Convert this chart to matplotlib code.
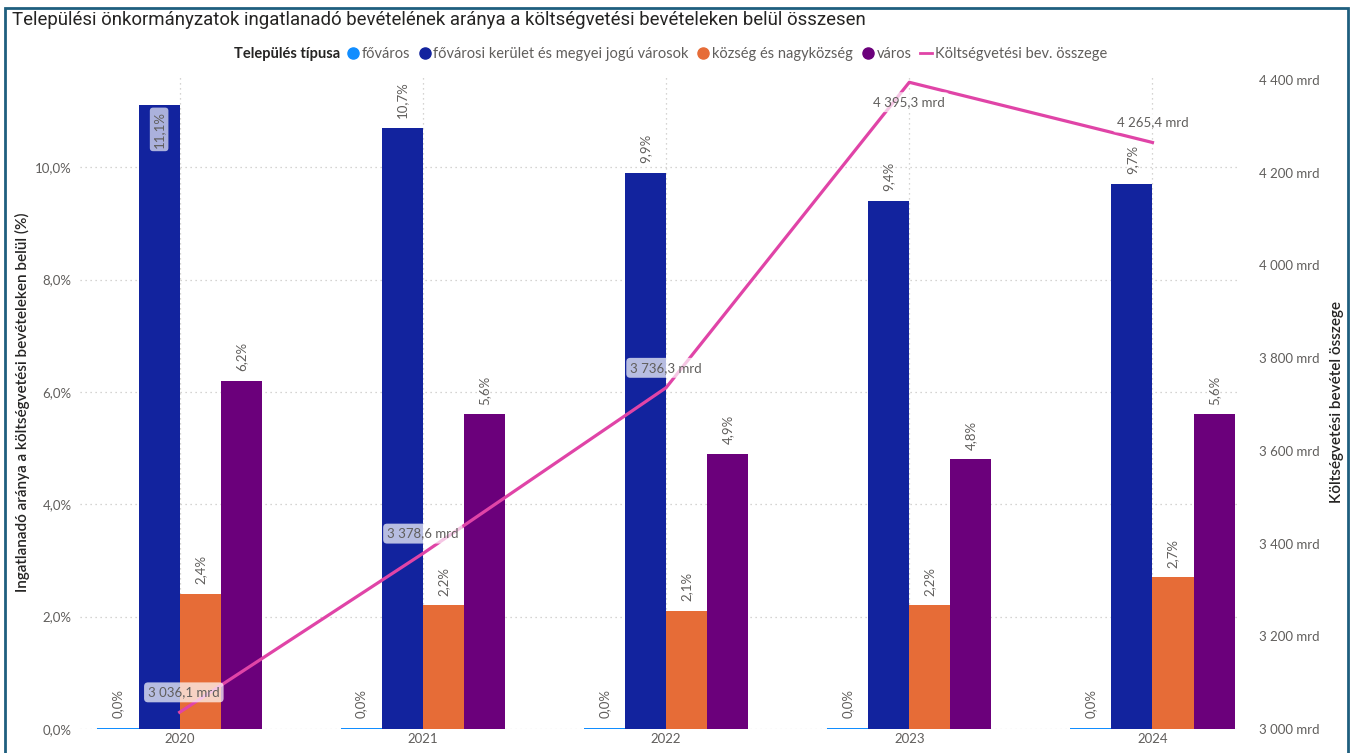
import matplotlib
matplotlib.use('Agg')
import matplotlib.pyplot as plt
import matplotlib.ticker as ticker
from matplotlib.lines import Line2D
from matplotlib.patches import Rectangle
import numpy as np

# Data
years = ['2020', '2021', '2022', '2023', '2024']
fovaros = [0.02, 0.02, 0.02, 0.02, 0.02]
keruletek = [11.1, 10.7, 9.9, 9.4, 9.7]
kozseg = [2.4, 2.2, 2.1, 2.2, 2.7]
varos = [6.2, 5.6, 4.9, 4.8, 5.6]
bevetel = [3036.1, 3378.6, 3736.3, 4395.3, 4265.4]

series_names = ['főváros', 'fővárosi kerület és megyei jogú városok',
                'község és nagyközség', 'város']
series_colors = ['#118DFF', '#12239E', '#E66C37', '#6B007B']
line_color = '#E044A7'
gray = '#605E5C'

plt.rcParams['font.family'] = ['Lato', 'DejaVu Sans']

def hu_num(v, dec=1):
    s = f"{v:,.{dec}f}"
    return s.replace(',', ' ').replace('.', ',')

fig = plt.figure(figsize=(13.53, 7.53), dpi=100)
ax = fig.add_axes([0.0591, 0.0319, 0.8574, 0.8685])
ax2 = ax.twinx()

x = np.arange(len(years))
w = 0.169
all_series = [fovaros, keruletek, kozseg, varos]
for i, (vals, col) in enumerate(zip(all_series, series_colors)):
    pos = x + (i - 1.5) * w
    ax.bar(pos, vals, width=w, color=col, zorder=2)
    for px, v in zip(pos, vals):
        lbl = hu_num(v) + '%'
        if v > 10.9:
            ax.annotate(lbl, (px, v), xytext=(0, -4), textcoords='offset points',
                        rotation=90, ha='center', va='top', fontsize=9.5, color=gray,
                        bbox=dict(boxstyle='round,pad=0.25', fc='white', ec='none', alpha=0.65),
                        zorder=5)
        else:
            ax.annotate(lbl, (px, v), xytext=(0, 7), textcoords='offset points',
                        rotation=90, ha='center', va='bottom', fontsize=9.5, color=gray,
                        zorder=5)

ax.set_xlim(-0.41, 4.36)
ax.set_ylim(0, 11.64)
ax.set_xticks(x)
ax.set_xticklabels(years)
ax.yaxis.set_major_locator(ticker.MultipleLocator(2))
ax.yaxis.set_major_formatter(ticker.FuncFormatter(lambda v, _: hu_num(v) + '%'))
ax.tick_params(axis='both', length=0, colors=gray, labelsize=9.5)
ax.tick_params(axis='y', pad=6)
ax.tick_params(axis='x', pad=3)
ax.grid(axis='y', linestyle=(0, (1, 3)), color='#C8C6C4', linewidth=0.9, zorder=0)
for xi in x:
    ax.axvline(xi, linestyle=(0, (1, 3)), color='#C8C6C4', linewidth=0.9, zorder=0)
for s in ax.spines.values():
    s.set_visible(False)
ax.set_ylabel('Ingatlanadó aránya a költségvetési bevételeken belül (%)',
              fontsize=11, color='#252423', fontweight='semibold')
ax.yaxis.set_label_coords(-0.043, 0.5)

# line on secondary axis
ax2.plot(x, bevetel, color=line_color, linewidth=2.3, zorder=4)
ax2.set_ylim(3000, 4411)
ax2.yaxis.set_major_locator(ticker.MultipleLocator(200))
ax2.yaxis.set_major_formatter(ticker.FuncFormatter(lambda v, _: hu_num(v, 0) + ' mrd'))
ax2.tick_params(axis='y', length=0, colors=gray, labelsize=9.5, pad=14)
for s in ax2.spines.values():
    s.set_visible(False)
ax2.set_ylabel('Költségvetési bevétel összege', fontsize=11, color='#252423',
               fontweight='semibold')
ax2.yaxis.set_label_coords(1.0776, 0.5)

label_offsets = [(3, 10), (0, 10), (0, 10), (0, -10), (0, 10)]
for xi, v, off in zip(x, bevetel, label_offsets):
    ax2.annotate(hu_num(v) + ' mrd', (xi, v), xytext=off, textcoords='offset points',
                 ha='center', va='bottom' if off[1] > 0 else 'top', fontsize=9.5, color=gray,
                 bbox=dict(boxstyle='round,pad=0.3', fc='white', ec='none', alpha=0.7),
                 zorder=6)

# title
fig.text(12 / 1353, 1 - 20 / 753, 'Települési önkormányzatok ingatlanadó bevételének aránya a költségvetési bevételeken belül összesen',
         fontsize=13.4, color='#252423', ha='left', va='center', family=['Roboto', 'DejaVu Sans'])

# legend
fig.text(340 / 1353, 1 - 54 / 753, 'Település típusa', fontsize=10.5, fontweight='bold',
         color='#252423', ha='right', va='center')
handles = [Line2D([], [], marker='o', linestyle='none', markersize=8, color=c) for c in series_colors]
handles.append(Line2D([], [], color=line_color, linewidth=2))
labels = series_names + ['Költségvetési bev. összege']
fig.legend(handles, labels, loc='center left', bbox_to_anchor=(347 / 1353, 1 - 54 / 753),
           ncol=5, frameon=False, fontsize=10.5, labelcolor=gray, handlelength=0.8,
           handletextpad=0.2, columnspacing=0.6, borderaxespad=0, borderpad=0)

# outer frame
fig.patches.append(Rectangle((5 / 1353, -0.01), 1343 / 1353, 1.0, transform=fig.transFigure,
                             fill=False, edgecolor='#1F5F7F', linewidth=2))

fig.savefig('out.png', dpi=100)
